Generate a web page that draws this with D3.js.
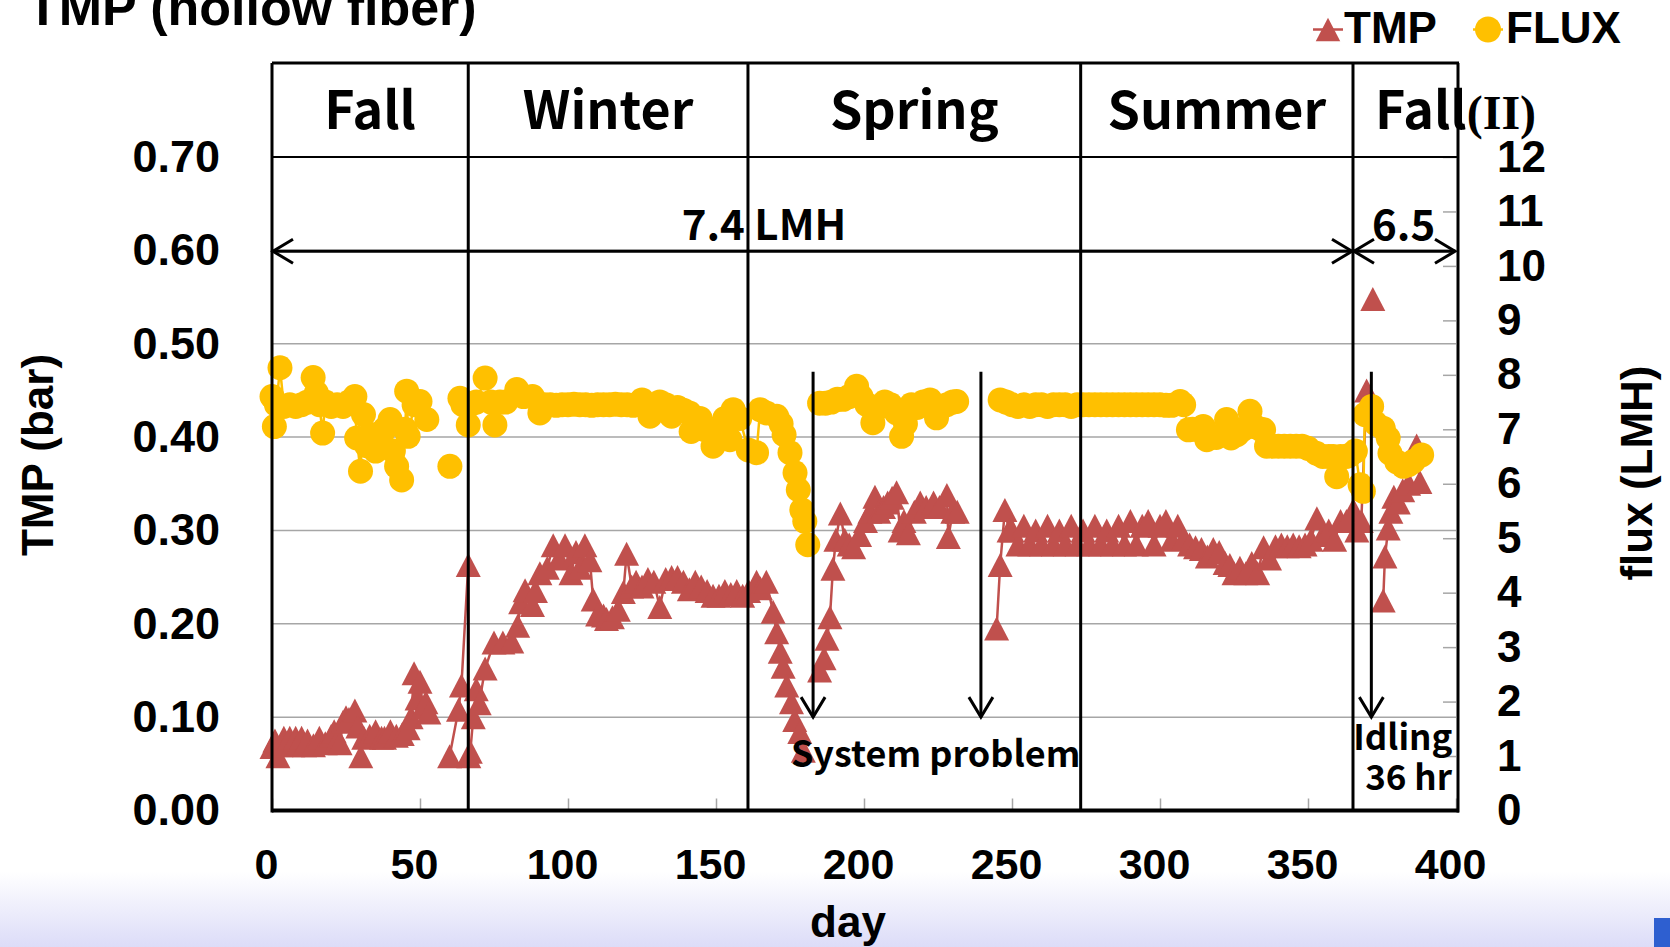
<!DOCTYPE html>
<html><head><meta charset="utf-8">
<script src="https://cdn.jsdelivr.net/npm/d3@7"></script>
<style>
html,body{margin:0;padding:0;background:#fff;}
svg{display:block;}
</style></head><body>
<svg id="chart" width="1670" height="947"></svg>
<script>
// ---------- data ----------
const seasonNames = ["Fall", "Winter", "Spring", "Summer", "Fall"];
const seasonBounds = [0, 66.3, 160.8, 273.2, 365.2, 400];
const dayTicks = [0, 50, 100, 150, 200, 250, 300, 350, 400];
const tmpTicks = [0, 0.1, 0.2, 0.3, 0.4, 0.5, 0.6, 0.7];
const fluxTicks = [0,1,2,3,4,5,6,7,8,9,10,11,12];

const tmpDay = [0,1,2,3,4,5,6,7,8,9,10,11,12,14,16,18,20,21,22,23,24,25,26,28,29,30,31,33,35,37,38,40,42,44,46,47,48,49,50,51,52,53,
  56,60,63,64,66.3,66.5,67,68,69,70,72,75,78,81,83,84,85.5,88,89,90.5,93,95,97,99,101,102.7,104,105.7,107.4,108.5,110,112,113,115,117,118.7,119.8,121.5,
  123,125,127,129,131,133,135,137,139,141,143,145,147,149,151,153,155,157,159,161,163.7,165,167,169.3,170.5,171.7,172.7,173.9,175.5,176.6,178.3,179.5,
  182,185,186.5,187.5,188.5,189.5,190.5,192,193.5,195,196.5,198.5,200.5,202,203.7,205,206.6,208,209.5,211,212.2,213.5,215,217,219,221,223.5,225.5,228,228.5,230,231.5,
  238,244.8,246,247.6,249,250,252,254,256,258,260,262,264,266,268,270,272,274,276,278,280,282,284,286,288,290,292,294,296,298,300,302,304,306,308,310,
  312,314,316,318,320,322,323.6,325,327,329,331,333,335,337,339,341,343,345,347,349,351,353,355,357,359,361,363,365.3,366.5,368,369.8,370.8,371.9,373.5,
  375.4,376,377.1,378,379,380.5,382,384,386.7,387.8];
const tmpVal = [0.068,0.075,0.058,0.07,0.078,0.072,0.078,0.07,0.078,0.072,0.078,0.07,0.075,0.07,0.078,0.072,0.08,0.085,0.075,0.072,0.095,0.1,0.098,0.107,0.09,0.058,0.078,0.08,0.085,0.078,0.078,0.085,0.08,0.082,0.088,0.1,0.147,0.12,0.138,0.11,0.116,0.105,
  null,0.058,0.108,0.134,0.263,0.058,0.063,0.1,0.13,0.115,0.152,0.18,0.18,0.181,0.198,0.223,0.236,0.22,0.235,0.254,0.26,0.284,0.27,0.284,0.254,0.277,0.26,0.284,0.268,0.226,0.21,0.209,0.205,0.207,0.215,0.234,0.275,0.24,
  0.245,0.24,0.248,0.245,0.218,0.248,0.25,0.25,0.245,0.237,0.245,0.24,0.235,0.23,0.23,0.235,0.232,0.235,0.23,0.235,0.245,0.238,0.245,0.213,0.191,0.17,0.154,0.134,0.116,0.097,0.084,0.064,
  null,0.15,0.163,0.184,0.207,0.259,0.29,0.318,0.29,0.285,0.282,0.295,0.31,0.32,0.336,0.32,0.325,0.33,0.335,0.341,0.30,0.31,0.297,0.32,0.33,0.325,0.33,0.325,0.338,0.293,0.32,0.32,
  null,0.195,0.263,0.322,0.30,0.30,0.285,0.305,0.285,0.30,0.285,0.305,0.285,0.30,0.285,0.305,0.285,0.30,0.285,0.305,0.285,0.30,0.285,0.305,0.285,0.31,0.285,0.305,0.31,0.285,0.305,0.31,0.29,0.305,0.291,0.285,
  0.282,0.28,0.272,0.28,0.277,0.265,0.263,0.254,0.26,0.254,0.265,0.254,0.282,0.27,0.283,0.285,0.283,0.285,0.283,0.285,0.29,0.313,0.295,0.30,0.29,0.31,0.31,0.322,0.30,0.31,0.45,null,0.548,null,
  0.225,0.272,0.302,0.32,0.336,0.33,0.343,0.35,0.391,0.352];

const fluxDay = [0,0.8,1.5,2.7,4,6,8,10,12,13.9,15,16,17.1,18,20,22,24,26,28,28.6,29.9,30.9,32,34,35,36.5,38,39.9,41,42.1,43.8,45,45.5,46,48,50,52.3,
  56,60.1,62,63.5,64.5,66.3,67,69,72,74,75.3,77,79,82.7,85,88,90.5,92,94,96,98,100,102,104,106,108,110,112,114,116,118,120,122,125,127.7,129,131,133,135,137,139,141,141.6,
  144.6,146,149,151.4,153,154.7,155.8,158,160.9,163.7,164.9,167,170.5,172,173,175,176.7,177.8,179,180,181,
  183,185,187,189,191,193,195,197.5,199,201,203,205,207,209,211,212.7,214,216,218,220,222.3,224.5,226,228,230,231.3,
  238,246,248,250,252,254,256,258,260,262,264,266,268,270,272,274,276,278,280,282,284,286,288,290,292,294,296,298,300,302,304,306.8,308,
  309.6,311,313,314.6,315.8,317,319,321,322.5,324,326,328,330.4,332,334,335,336,338,340,342,344,346,348,350,352.8,355,357,358.5,359.7,361,363,364.2,366,
  367.6,368.7,369.2,371.5,373,375.4,377.1,377.7,380,382.2,384,385.6,388.4];
const fluxVal = [7.6,7.05,7.45,8.13,7.42,7.45,7.42,7.45,7.5,7.95,7.67,7.45,6.93,7.5,7.42,7.45,7.42,7.5,7.6,6.84,6.23,7.27,6.7,6.9,6.6,6.81,7.0,7.18,6.6,6.32,6.07,7.0,7.7,6.87,7.45,7.51,7.18,
  null,6.32,null,7.57,7.45,7.08,7.45,7.5,7.94,7.5,7.08,7.5,7.5,7.73,7.6,7.6,7.3,7.45,7.45,7.44,7.45,7.45,7.46,7.45,7.45,7.44,7.45,7.45,7.45,7.46,7.45,7.45,7.44,7.54,7.24,7.4,7.5,7.45,7.24,7.4,7.35,7.3,6.96,
  7.2,7.0,6.69,7.05,7.2,6.81,7.36,7.2,6.62,6.57,7.36,7.3,7.24,7.1,6.9,6.57,6.2,5.89,5.52,5.31,4.88,
  null,7.48,7.48,7.5,7.55,7.55,7.6,7.79,7.6,7.45,7.12,7.4,7.5,7.45,7.3,6.87,7.1,7.45,7.4,7.5,7.54,7.21,7.4,7.45,7.5,7.51,
  null,7.54,7.5,7.45,7.42,7.45,7.42,7.45,7.45,7.42,7.45,7.45,7.45,7.42,7.45,7.45,7.45,7.45,7.45,7.45,7.45,7.45,7.45,7.45,7.45,7.45,7.45,7.45,7.45,7.44,7.44,7.51,7.45,
  6.99,7.0,7.0,7.05,6.81,6.85,6.85,6.9,7.18,6.84,6.9,7.0,7.33,7.05,7.0,6.99,6.69,6.69,6.69,6.69,6.69,6.69,6.69,6.65,6.56,6.5,6.5,6.5,6.13,6.5,6.5,6.53,6.6,
  5.98,5.86,7.27,7.42,7.1,7.02,6.84,6.56,6.4,6.32,6.35,6.41,6.53];

// annotations (data units)
const problemDays = [182.8, 239.5];
const idleDays = [371.4];
const arrowTmpTop = 0.47, arrowTmpBottom = 0.10;
const fluxSpans = [[0, 365.2], [365.2, 400]];
const fluxSpanLabels = ["7.4 LMH", "6.5"];
const fluxSpanLabelDays = [166.2, 382.3];
const fluxSpanTmp = 0.599;

// ---------- layout ----------
const W = 1670, H = 947;
const M = {left: 272, right: 1456, top: 157, bottom: 810.5, boxTop: 63};
const RED = "#C0504D", YEL = "#FFC000", GRID = "#a6a6a6";
const SANS = "'Liberation Sans', Arial, sans-serif";
const KR = "'Noto Sans CJK KR', 'Noto Sans', sans-serif";

const svg = d3.select("#chart");
const x = d3.scaleLinear().domain([0, 400]).range([M.left, M.right]);
const yL = d3.scaleLinear().domain([0, 0.7]).range([M.bottom, M.top]);
const yR = d3.scaleLinear().domain([0, 12]).range([M.bottom, M.top]);

// background
const defs = svg.append("defs");
const grad = defs.append("linearGradient").attr("id", "bg").attr("x1", 0).attr("y1", 0).attr("x2", 0).attr("y2", 1);
grad.append("stop").attr("offset", "0").attr("stop-color", "#ffffff");
grad.append("stop").attr("offset", "1").attr("stop-color", "#dcdcf8");
svg.append("rect").attr("width", W).attr("height", H).attr("fill", "#fff");
svg.append("rect").attr("y", 872).attr("width", W).attr("height", H - 872).attr("fill", "url(#bg)");
svg.append("rect").attr("x", 1654).attr("y", 918).attr("width", 16).attr("height", 29).attr("fill", "#2e5fd0");

// grid
svg.append("g").selectAll("line").data(tmpTicks.filter(t => t > 0)).join("line")
  .attr("x1", M.left).attr("x2", M.right).attr("y1", d => yL(d)).attr("y2", d => yL(d))
  .attr("stroke", GRID).attr("stroke-width", 1.5);

// axes
const gx = svg.append("g").attr("transform", `translate(0,${M.bottom})`)
  .call(d3.axisBottom(x).tickValues(dayTicks).tickSize(-12).tickPadding(38).tickFormat(d3.format("d")));
gx.select(".domain").remove();
gx.selectAll(".tick line").attr("stroke", GRID).attr("stroke-width", 1.5);
gx.selectAll("text").attr("font-family", SANS).attr("font-weight", "bold").attr("font-size", 43).attr("dx", -6).attr("fill", "#000");

const gl = svg.append("g").attr("transform", `translate(${M.left},0)`)
  .call(d3.axisLeft(yL).tickValues(tmpTicks).tickSize(0).tickPadding(52).tickFormat(d3.format(".2f")));
gl.select(".domain").remove();
gl.selectAll("text").attr("font-family", SANS).attr("font-weight", "bold").attr("font-size", 45).attr("fill", "#000");

const gr = svg.append("g").attr("transform", `translate(${M.right},0)`)
  .call(d3.axisRight(yR).tickValues(fluxTicks).tickSize(-13).tickPadding(41).tickFormat(d3.format("d")));
gr.select(".domain").remove();
gr.selectAll(".tick line").attr("stroke", GRID).attr("stroke-width", 1.5);
gr.selectAll("text").attr("font-family", SANS).attr("font-weight", "bold").attr("font-size", 44).attr("fill", "#000");

// data
const tmpData = tmpDay.map((d, i) => ({d, v: tmpVal[i]}));
const fluxData = fluxDay.map((d, i) => ({d, v: fluxVal[i]}));

const tri = {draw(ctx, size) { const w = Math.sqrt(size), h = w * 0.96;
  ctx.moveTo(0, -h / 2); ctx.lineTo(w / 2, h / 2); ctx.lineTo(-w / 2, h / 2); ctx.closePath(); }};

svg.append("path").datum(tmpData)
  .attr("d", d3.line().defined(p => p.v != null).x(p => x(p.d)).y(p => yL(p.v)))
  .attr("fill", "none").attr("stroke", RED).attr("stroke-width", 2.5);
svg.append("g").selectAll("path").data(tmpData.filter(p => p.v != null)).join("path")
  .attr("transform", p => `translate(${x(p.d)},${yL(p.v)})`)
  .attr("d", d3.symbol().type(tri).size(625)).attr("fill", RED);

svg.append("path").datum(fluxData)
  .attr("d", d3.line().defined(p => p.v != null).x(p => x(p.d)).y(p => yR(p.v)))
  .attr("fill", "none").attr("stroke", YEL).attr("stroke-width", 2.5);
svg.append("g").selectAll("circle").data(fluxData.filter(p => p.v != null)).join("circle")
  .attr("cx", p => x(p.d)).attr("cy", p => yR(p.v)).attr("r", 12.5).attr("fill", YEL);

// frame & season boxes
const frame = svg.append("g").attr("stroke", "#000").attr("fill", "none");
frame.append("line").attr("x1", M.left).attr("x2", M.left).attr("y1", M.boxTop).attr("y2", M.bottom + 2).attr("stroke-width", 3);
frame.append("line").attr("x1", M.right + 2).attr("x2", M.right + 2).attr("y1", M.boxTop).attr("y2", M.bottom + 2).attr("stroke-width", 3);
frame.append("line").attr("x1", M.left).attr("x2", M.right + 3).attr("y1", M.bottom).attr("y2", M.bottom).attr("stroke-width", 4);
frame.append("line").attr("x1", M.left).attr("x2", M.right + 3).attr("y1", M.boxTop).attr("y2", M.boxTop).attr("stroke-width", 3);
frame.append("line").attr("x1", M.left).attr("x2", M.right + 2).attr("y1", M.top).attr("y2", M.top).attr("stroke-width", 2);
frame.selectAll(".sep").data(seasonBounds.slice(1, -1)).join("line").attr("class", "sep")
  .attr("x1", d => x(d)).attr("x2", d => x(d)).attr("y1", M.boxTop).attr("y2", M.bottom).attr("stroke-width", 3);

const seasonText = svg.append("g").attr("font-family", KR).attr("font-weight", "bold").attr("font-size", 52).attr("fill", "#000");
seasonNames.slice(0, 4).forEach((n, i) => {
  seasonText.append("text").attr("x", x((seasonBounds[i] + seasonBounds[i + 1]) / 2)).attr("y", 129)
    .attr("text-anchor", "middle").text(n);
});
const f2 = seasonText.append("text").attr("x", x(seasonBounds[4]) + 22).attr("y", 129);
f2.append("tspan").text(seasonNames[4]);
f2.append("tspan").attr("font-family", "'Liberation Serif', 'DejaVu Serif', serif").attr("font-size", 48).text("(II)");

// arrows
const ann = svg.append("g").attr("stroke", "#000").attr("fill", "none").attr("stroke-width", 3);
function chevronDown(g, cx, cy) {
  g.append("path").attr("d", `M${cx - 12},${cy - 20} L${cx},${cy} L${cx + 12},${cy - 20}`);
}
problemDays.concat(idleDays).forEach(d => {
  ann.append("line").attr("x1", x(d)).attr("x2", x(d)).attr("y1", yL(arrowTmpTop)).attr("y2", yL(arrowTmpBottom));
  chevronDown(ann, x(d), yL(arrowTmpBottom));
});
fluxSpans.forEach(([a, b]) => {
  const y0 = yL(fluxSpanTmp), xa = x(a) + 1, xb = x(b) - 1;
  ann.append("line").attr("x1", xa).attr("x2", xb).attr("y1", y0).attr("y2", y0);
  ann.append("path").attr("d", `M${xa + 20},${y0 - 12} L${xa},${y0} L${xa + 20},${y0 + 12}`);
  ann.append("path").attr("d", `M${xb - 20},${y0 - 12} L${xb},${y0} L${xb - 20},${y0 + 12}`);
});

const annText = svg.append("g").attr("font-family", KR).attr("font-weight", "bold").attr("fill", "#000");
fluxSpanLabels.forEach((t, i) => {
  annText.append("text").attr("x", x(fluxSpanLabelDays[i])).attr("y", yL(fluxSpanTmp) - 11)
    .attr("text-anchor", "middle").attr("font-size", 42).text(t);
});
annText.append("text").attr("x", x(175.3)).attr("y", yL(0.047)).attr("font-size", 36).text("System problem");
annText.append("text").attr("x", x(365.3)).attr("y", yL(0.065)).attr("font-size", 35).text("Idling");
annText.append("text").attr("x", x(369.3)).attr("y", yL(0.022)).attr("font-size", 35).text("36 hr");

// titles
svg.append("text").attr("x", 27).attr("y", 25).attr("font-family", SANS).attr("font-weight", "bold")
  .attr("font-size", 52).text("TMP (hollow fiber)");
svg.append("text").attr("transform", `translate(53,455) rotate(-90)`).attr("text-anchor", "middle")
  .attr("font-family", SANS).attr("font-weight", "bold").attr("font-size", 44).text("TMP (bar)");
svg.append("text").attr("transform", `translate(1652,473) rotate(-90)`).attr("text-anchor", "middle")
  .attr("font-family", SANS).attr("font-weight", "bold").attr("font-size", 44).text("flux (LMH)");
svg.append("text").attr("x", 848).attr("y", 937).attr("text-anchor", "middle")
  .attr("font-family", SANS).attr("font-weight", "bold").attr("font-size", 44).text("day");

// legend
const lg = svg.append("g");
lg.append("line").attr("x1", 1313).attr("x2", 1343).attr("y1", 29.5).attr("y2", 29.5).attr("stroke", RED).attr("stroke-width", 2.5);
lg.append("path").attr("transform", "translate(1328,29.5)").attr("d", d3.symbol().type(tri).size(600)).attr("fill", RED);
lg.append("text").attr("x", 1344).attr("y", 43).attr("font-family", SANS).attr("font-weight", "bold").attr("font-size", 44).text("TMP");
lg.append("line").attr("x1", 1473).attr("x2", 1503).attr("y1", 29.5).attr("y2", 29.5).attr("stroke", YEL).attr("stroke-width", 2.5);
lg.append("circle").attr("cx", 1488).attr("cy", 29.5).attr("r", 13).attr("fill", YEL);
lg.append("text").attr("x", 1506).attr("y", 43).attr("font-family", SANS).attr("font-weight", "bold").attr("font-size", 44).text("FLUX");
</script>
</body></html>
